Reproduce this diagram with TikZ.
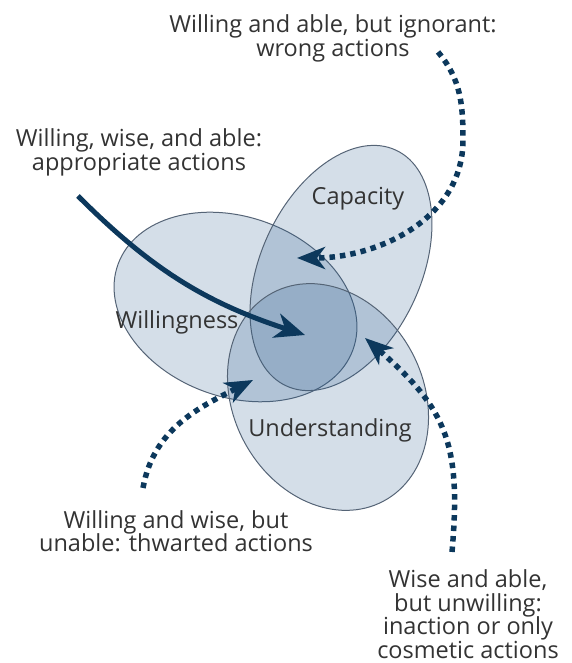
\documentclass[tikz,border=0pt]{standalone}
\usepackage{fontspec}
\setmainfont{Open Sans}
\usetikzlibrary{arrows.meta,shapes.geometric}
\definecolor{navy}{RGB}{12,56,92}
\definecolor{setfill}{RGB}{40,90,140}
\definecolor{setline}{RGB}{85,100,118}
\begin{document}
\begin{tikzpicture}
  [
    x=1pt, y=1pt,
    set/.style =
      {draw=setline, line width=1pt, fill=setfill, fill opacity=0.2, ellipse, inner sep=0pt},
    txt/.style =
      {align=center, inner sep=0pt, text=black!80, font=\fontsize{23.5}{23.5}\selectfont},
    sarrow/.style =
      {navy, line width=5pt, -{Stealth[length=30pt, width=25pt, inset=9pt]}},
    darrow/.style =
      {navy, line width=5.5pt, dash pattern=on 5.5pt off 5pt,
       -{Stealth[length=28pt, width=22pt, inset=8pt]}}
  ]
  \useasboundingbox (0, 0) rectangle (572, 663);

  \node [set, minimum width=250pt, minimum height=180pt, rotate=-20] at (235.5, 356) (will) {};
  \node [set, minimum width=260pt, minimum height=160pt, rotate=65]  at (341, 395)   (cap)  {};
  \node [set, minimum width=236pt, minimum height=190pt, rotate=-62] at (328, 266)   (und)  {};

  \node [txt] at (177, 341) (willt) {Willingness};
  \node [txt] at (358, 464) (capt)  {Capacity};
  \node [txt] at (330, 233) (undt)  {Understanding};

  \node [txt] at (333, 624.5) (wrong)  {Willing and able, but ignorant:\\wrong actions};
  \node [txt] at (139, 510.5) (approp) {Willing, wise, and able:\\appropriate actions};
  \node [txt] at (176, 132)   (thwart) {Willing and wise, but\\unable: thwarted actions};
  \node [txt] at (468, 49)    (inact)  {Wise and able,\\but unwilling:\\inaction or only\\cosmetic actions};

  \coordinate (s1) at (78, 467);   \coordinate (e1) at (305, 328);
  \coordinate (s2) at (438, 611);  \coordinate (m2) at (463, 523);  \coordinate (e2) at (297, 405);
  \coordinate (s3) at (143, 175);  \coordinate (e3) at (253, 283);
  \coordinate (s4) at (452, 111);  \coordinate (e4) at (365, 325);

  \draw [sarrow] (s1) to[out=-45, in=162] (e1);
  \draw [darrow] (s2) to[out=-50, in=90] (m2) to[out=-90, in=0] (e2);
  \draw [darrow] (s3) to[out=80, in=-153] (e3);
  \draw [darrow] (s4) to[out=85, in=-41, looseness=1.2] (e4);
\end{tikzpicture}
\end{document}
